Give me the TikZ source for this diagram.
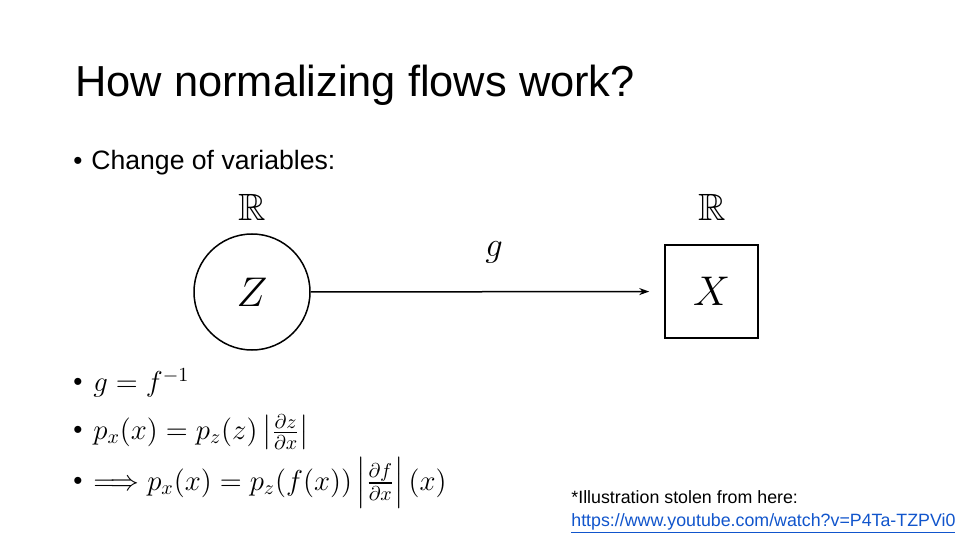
\documentclass[tikz,border=0pt]{standalone}
\usepackage{amssymb}
\usepackage{fontspec}
\setmainfont{Liberation Sans}
\usetikzlibrary{arrows.meta}
\definecolor{linkblue}{RGB}{17,85,204}
\tikzset{
  txt/.style={inner sep=0pt, anchor=base west},
  bul/.style={inner sep=0pt, anchor=base west, font=\fontsize{13}{15}\selectfont},
  eq/.style={inner sep=0pt, anchor=west, font=\fontsize{14}{17}\selectfont},
  shapeline/.style={draw=black, line width=0.75pt},
}
\begin{document}
\begin{tikzpicture}[x=0.5pt,y=-0.5pt]
\useasboundingbox[fill=white] (0,0) rectangle (960,540);
% title
\node[txt, font=\fontsize{21.7}{25}\selectfont] (title) at (75,97) {How normalizing flows work?};
% bullet 1
\node[bul] (b1) at (73,170) {\textbullet};
\node[txt, font=\fontsize{13.3}{16}\selectfont] (cov) at (91,170) {Change of variables:};
% diagram
\node[shapeline, circle, minimum size=58pt, inner sep=0pt, font=\fontsize{20}{24}\selectfont] (Z) at (252,292) {$Z$};
\node[shapeline, rectangle, minimum size=46.5pt, inner sep=0pt, font=\fontsize{20}{24}\selectfont] (X) at (711.5,291.5) {$X$};
\node[inner sep=0pt, font=\fontsize{19}{22}\selectfont] (RZ) at (252,207) {$\mathbb{R}$};
\node[inner sep=0pt, font=\fontsize{19}{22}\selectfont] (RX) at (712,207) {$\mathbb{R}$};
\draw[line width=0.75pt, -{Stealth[length=5pt,width=3.5pt]}, shorten >=7.5pt] (Z) -- (X);
\node[inner sep=0pt, font=\fontsize{19}{22}\selectfont] (g) at (494,252) {$g$};
% formulas
\node[bul] (b2) at (73,390) {\textbullet};
\node[eq] (e1) at (93,383) {$g = f^{-1}$};
\node[bul] (b3) at (73,438) {\textbullet};
\node[eq] (e2) at (93,432) {$p_x(x) = p_z(z)\left|\frac{\partial z}{\partial x}\right|$};
\node[bul] (b4) at (73,489) {\textbullet};
\node[eq] (e3) at (93,483) {$\Longrightarrow p_x(x) = p_z(f(x))\left|\frac{\partial f}{\partial x}\right|(x)$};
% footnote
\node[txt, font=\fontsize{8.9}{11}\selectfont] (note) at (571,503) {*Illustration stolen from here:};
\node[txt, font=\fontsize{8.9}{11}\selectfont, text=linkblue] (link) at (571,526) {\underline{https://www.youtube.com/watch?v=P4Ta-TZPVi0}};
\end{tikzpicture}
\end{document}
